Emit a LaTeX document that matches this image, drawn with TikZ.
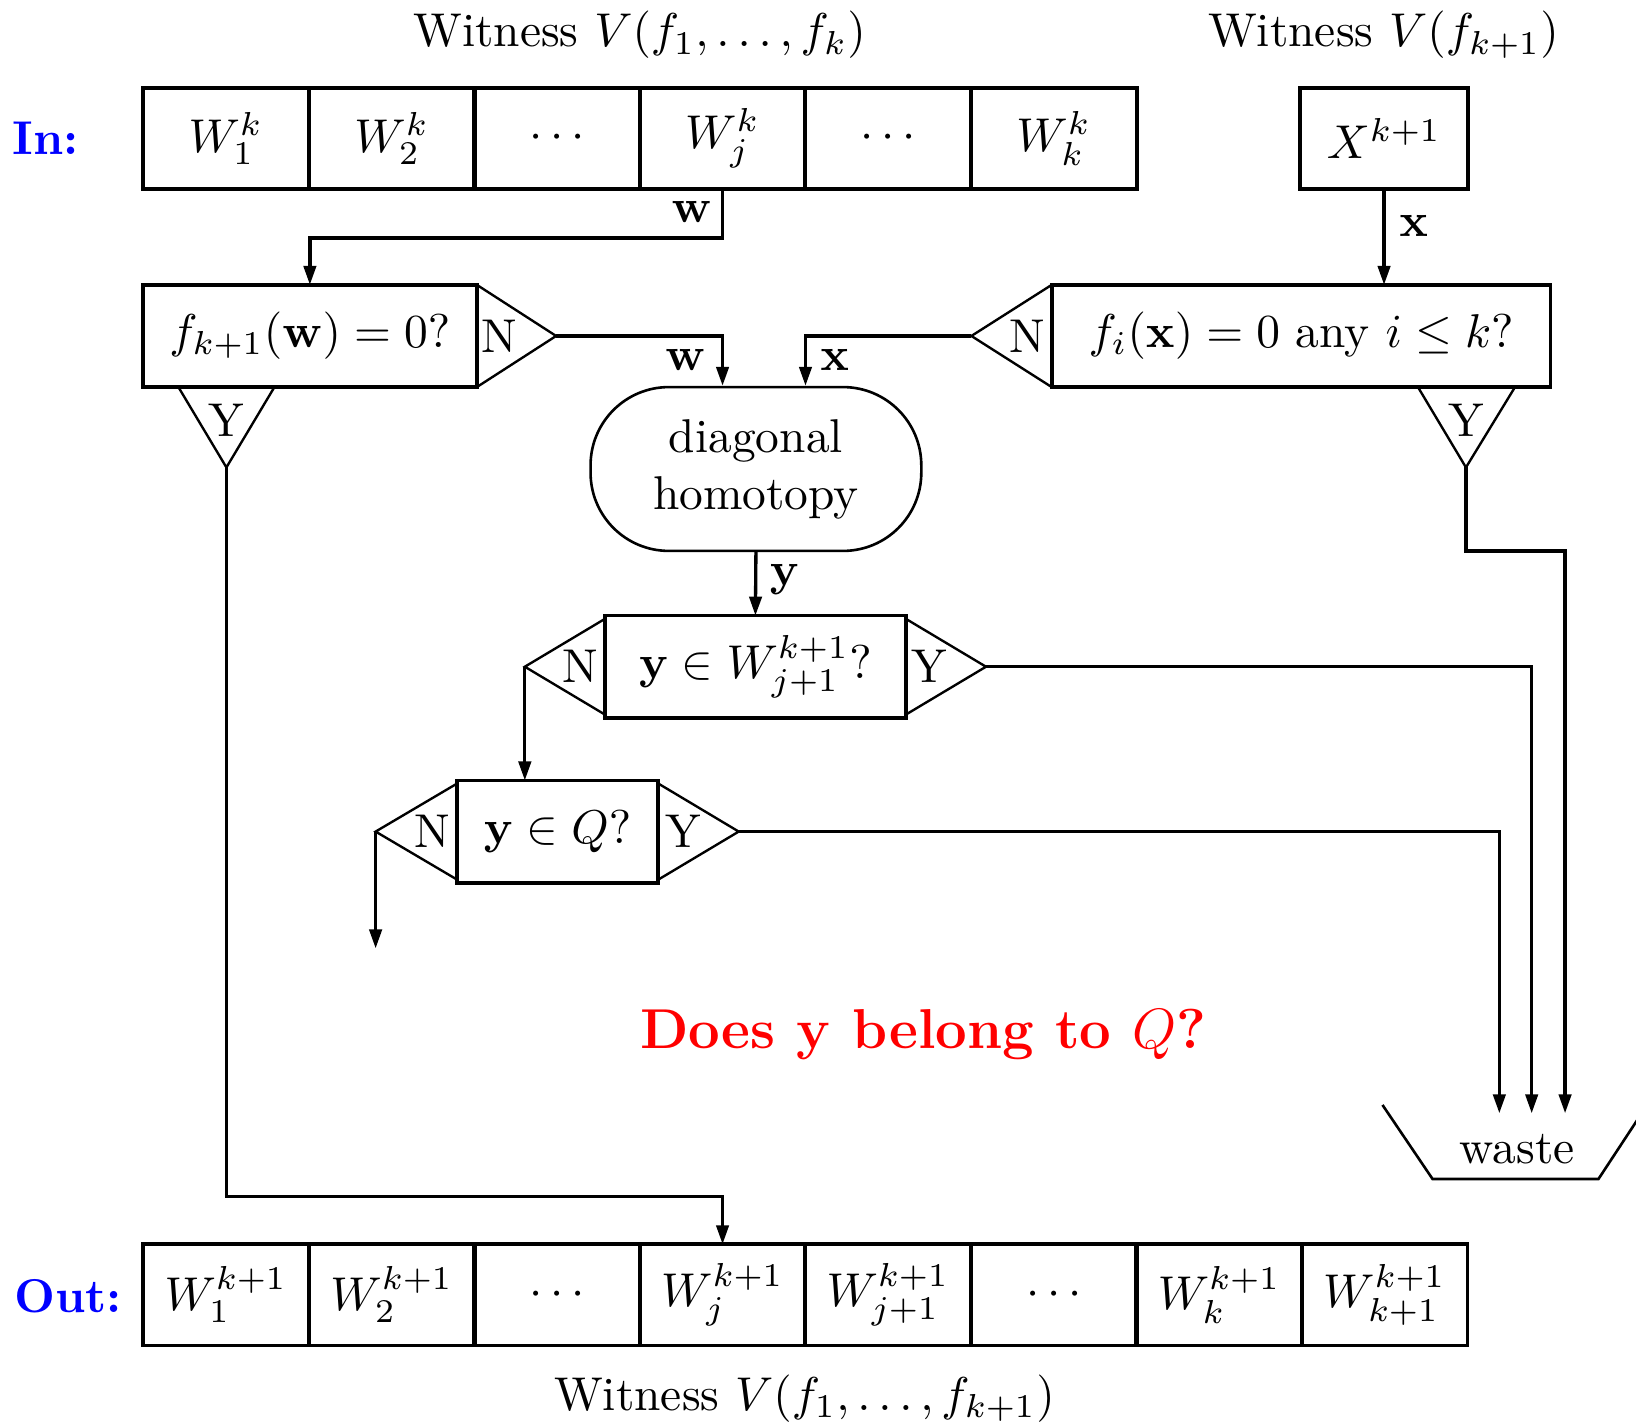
\documentclass[tikz,border=0pt]{standalone}
\usetikzlibrary{arrows.meta,calc}
\newcommand{\pxu}{0.22pt}
\tikzset{
  cell/.style={draw, line width=0.8pt, minimum width=159*\pxu, minimum height=97*\pxu, inner sep=0pt, outer sep=0pt},
  qbox/.style={draw, line width=0.8pt, minimum height=98*\pxu, inner sep=0pt, outer sep=0pt},
  tri/.style={line width=0.5pt, line join=miter},
  conn/.style={line width=0.7pt},
  arr/.style={conn, -{Triangle[length=4pt,width=2.6pt]}},
  lbl/.style={inner sep=0pt},
  hdr/.style={anchor=base, inner sep=0pt},
}
\begin{document}
\begin{tikzpicture}[x=\pxu, y=-\pxu]
\useasboundingbox (0,0) rectangle (1568,1364);
\fill[white] (0,0) rectangle (1568,1364);

% headings
\node[hdr] (witA) at (613,45) {Witness $V(f_1,\ldots,f_k)$};
\node[hdr] (witB) at (1326,45) {Witness $V(f_{k+1})$};
\node[hdr, anchor=base west, text=blue] (inlbl) at (11,148) {\textbf{In:}};
\node[hdr, anchor=base west, text=blue] (outlbl) at (13,1258) {\textbf{Out:}};
\node[hdr] (witC) at (771,1352) {Witness $V(f_1,\ldots,f_{k+1})$};

% input witness sets
\node[cell] (in1) at (216.5,132.5) {$W_1^k$};
\node[cell] (in2) at (375.5,132.5) {$W_2^k$};
\node[cell] (in3) at (534,132.5) {$\cdots$};
\node[cell] (in4) at (692.5,132.5) {$W_j^k$};
\node[cell] (in5) at (851,132.5) {$\cdots$};
\node[cell] (in6) at (1010,132.5) {$W_k^k$};
\node[cell, minimum width=161*\pxu] (X) at (1326.5,132.5) {$X^{k+1}$};

% tests
\node[qbox, minimum width=320*\pxu] (f) at (297,322) {$f_{k+1}(\mathbf{w})=0?$};
\node[qbox, minimum width=478*\pxu] (fi) at (1247,322) {$f_i(\mathbf{x})=0$ any $i\le k$?};
\node[draw, line width=0.55pt, rounded corners=16.5pt, minimum width=317*\pxu, minimum height=157*\pxu, align=center, inner sep=0pt] (diag) at (724.5,449.5) {diagonal\\homotopy};
\node[qbox, minimum width=288*\pxu] (yW) at (724,639) {$\mathbf{y}\in W_{j+1}^{k+1}?$};
\node[qbox, minimum width=193*\pxu] (yQ) at (534.5,797) {$\mathbf{y}\in Q?$};

% decision tips
\coordinate (fN) at ($(f.east)+(76,0)$);
\coordinate (fY) at ($(f.south west)+(80,77)$);
\coordinate (fiN) at ($(fi.west)+(-77,0)$);
\coordinate (fiY) at ($(fi.south east)+(-81,77)$);
\coordinate (yWN) at ($(yW.west)+(-77,0)$);
\coordinate (yWY) at ($(yW.east)+(77,0)$);
\coordinate (yQN) at ($(yQ.west)+(-78,0)$);
\coordinate (yQY) at ($(yQ.east)+(77,0)$);

\draw[tri] (f.north east) -- (fN) -- (f.south east);
\draw[tri] ($(f.south west)+(34,0)$) -- (fY) -- ($(f.south west)+(126,0)$);
\draw[tri] (fi.north west) -- (fiN) -- (fi.south west);
\draw[tri] ($(fi.south east)+(-127,0)$) -- (fiY) -- ($(fi.south east)+(-34,0)$);
\draw[tri] ($(yW.north west)+(0,3)$) -- (yWN) -- ($(yW.south west)+(0,-3)$);
\draw[tri] ($(yW.north east)+(0,3)$) -- (yWY) -- ($(yW.south east)+(0,-3)$);
\draw[tri] ($(yQ.north west)+(0,3)$) -- (yQN) -- ($(yQ.south west)+(0,-3)$);
\draw[tri] ($(yQ.north east)+(0,3)$) -- (yQY) -- ($(yQ.south east)+(0,-3)$);

\node[lbl] (fNl) at ($(f.east)+(22,0)$) {N};
\node[lbl] (fYl) at ($(f.south west)+(80,32)$) {Y};
\node[lbl] (fiNl) at ($(fi.west)+(-23,0)$) {N};
\node[lbl] (fiYl) at ($(fi.south east)+(-81,32)$) {Y};
\node[lbl] (yWNl) at ($(yW.west)+(-24,0)$) {N};
\node[lbl] (yWYl) at ($(yW.east)+(23,0)$) {Y};
\node[lbl] (yQNl) at ($(yQ.west)+(-24,0)$) {N};
\node[lbl] (yQYl) at ($(yQ.east)+(24,0)$) {Y};

% waste bin
\node[hdr] (waste) at (1454,1115) {waste};
\draw[line width=0.55pt] (1325,1059) -- (1373,1130) -- (1532,1130) -- (1580,1057);
\coordinate (dump1) at (1437,1067);
\coordinate (dump2) at (1468,1067);
\coordinate (dump3) at (1500,1067);

% output witness sets
\node[cell] (out1) at (216.5,1241) {$W_1^{k+1}$};
\node[cell] (out2) at (375.5,1241) {$W_2^{k+1}$};
\node[cell] (out3) at (534,1241) {$\cdots$};
\node[cell] (out4) at (692.5,1241) {$W_j^{k+1}$};
\node[cell] (out5) at (851,1241) {$W_{j+1}^{k+1}$};
\node[cell] (out6) at (1010,1241) {$\cdots$};
\node[cell] (out7) at (1168.5,1241) {$W_k^{k+1}$};
\node[cell] (out8) at (1327,1241) {$W_{k+1}^{k+1}$};

\coordinate (loose) at ($(yQN)+(0,112)$);

% connectors
\draw[arr] (in4.south) -- ++(0,47) -| (f.north);
\draw[arr] (X.south) -- (X.south |- fi.north);
\draw[arr] (fN) -| (in4.south |- diag.north);
\draw[arr] (fiN) -| (in4.south east |- diag.north);
\draw[arr] (diag.south) -- (yW.north);
\draw[arr] (yWN) -- (yWN |- yQ.north);
\draw[arr] (yQN) -- (loose);
\draw[arr] (yQY) -| (dump1);
\draw[arr] (yWY) -| (dump2);
\draw[arr] (fiY) -- ++(0,80) -| (dump3);
\draw[arr] (fY) |- ($(out4.north)+(0,-46)$) -- (out4.north);

% connector labels
\node[lbl] (lw1) at (663,203) {$\mathbf{w}$};
\node[lbl] (lx1) at (1355,217) {$\mathbf{x}$};
\node[lbl] (lw2) at (657,345) {$\mathbf{w}$};
\node[lbl] (lx2) at (800,345) {$\mathbf{x}$};
\node[lbl] (ly) at (752,555) {$\mathbf{y}$};

% question
\node[hdr, text=red, font=\fontsize{11.85}{14}\selectfont] (quest) at (885,1005) {\textbf{Does $\mathbf{y}$ belong to $Q$?}};
\end{tikzpicture}
\end{document}
